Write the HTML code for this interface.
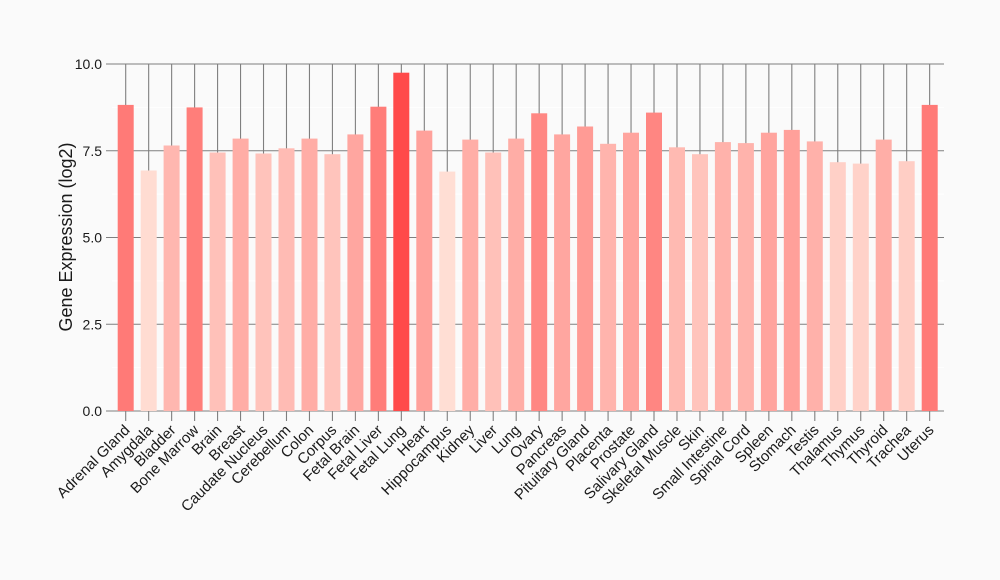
<!DOCTYPE html>
<html><head><meta charset="utf-8"><style>
html,body{margin:0;padding:0;background:#fafafa;}
svg{display:block;font-family:"Liberation Sans",Arial,sans-serif;}
</style></head><body>
<svg width="1000" height="580" viewBox="0 0 1000 580" xmlns="http://www.w3.org/2000/svg">
<rect width="1000" height="580" fill="#fafafa"/>
<g id="grid"></g>
<g>
<rect x="117.7" y="104.9" width="16" height="306.1" fill="rgb(255,122,119)"/>
<rect x="140.7" y="170.5" width="16" height="240.5" fill="rgb(255,220,210)"/>
<rect x="163.6" y="145.5" width="16" height="265.5" fill="rgb(255,183,176)"/>
<rect x="186.6" y="107.4" width="16" height="303.6" fill="rgb(255,126,122)"/>
<rect x="209.6" y="152.5" width="16" height="258.5" fill="rgb(255,193,185)"/>
<rect x="232.6" y="138.6" width="16" height="272.4" fill="rgb(255,173,166)"/>
<rect x="255.5" y="153.5" width="16" height="257.5" fill="rgb(255,195,187)"/>
<rect x="278.5" y="148.3" width="16" height="262.7" fill="rgb(255,187,180)"/>
<rect x="301.5" y="138.6" width="16" height="272.4" fill="rgb(255,173,166)"/>
<rect x="324.4" y="154.2" width="16" height="256.8" fill="rgb(255,196,188)"/>
<rect x="347.4" y="134.4" width="16" height="276.6" fill="rgb(255,166,160)"/>
<rect x="370.4" y="106.7" width="16" height="304.3" fill="rgb(255,125,121)"/>
<rect x="393.3" y="72.7" width="16" height="338.3" fill="rgb(255,74,74)"/>
<rect x="416.3" y="130.6" width="16" height="280.4" fill="rgb(255,161,155)"/>
<rect x="439.3" y="171.6" width="16" height="239.4" fill="rgb(255,222,212)"/>
<rect x="462.3" y="139.6" width="16" height="271.4" fill="rgb(255,174,167)"/>
<rect x="485.2" y="152.5" width="16" height="258.5" fill="rgb(255,193,185)"/>
<rect x="508.2" y="138.6" width="16" height="272.4" fill="rgb(255,173,166)"/>
<rect x="531.2" y="113.3" width="16" height="297.7" fill="rgb(255,135,131)"/>
<rect x="554.1" y="134.4" width="16" height="276.6" fill="rgb(255,166,160)"/>
<rect x="577.1" y="126.5" width="16" height="284.5" fill="rgb(255,155,149)"/>
<rect x="600.1" y="143.8" width="16" height="267.2" fill="rgb(255,180,173)"/>
<rect x="623.0" y="132.7" width="16" height="278.3" fill="rgb(255,164,158)"/>
<rect x="646.0" y="112.6" width="16" height="298.4" fill="rgb(255,134,130)"/>
<rect x="669.0" y="147.3" width="16" height="263.7" fill="rgb(255,186,178)"/>
<rect x="692.0" y="154.2" width="16" height="256.8" fill="rgb(255,196,188)"/>
<rect x="714.9" y="142.1" width="16" height="268.9" fill="rgb(255,178,171)"/>
<rect x="737.9" y="143.1" width="16" height="267.9" fill="rgb(255,179,172)"/>
<rect x="760.9" y="132.7" width="16" height="278.3" fill="rgb(255,164,158)"/>
<rect x="783.8" y="129.9" width="16" height="281.1" fill="rgb(255,160,154)"/>
<rect x="806.8" y="141.4" width="16" height="269.6" fill="rgb(255,177,170)"/>
<rect x="829.8" y="162.2" width="16" height="248.8" fill="rgb(255,208,199)"/>
<rect x="852.8" y="163.6" width="16" height="247.4" fill="rgb(255,210,201)"/>
<rect x="875.7" y="139.6" width="16" height="271.4" fill="rgb(255,174,167)"/>
<rect x="898.7" y="161.2" width="16" height="249.8" fill="rgb(255,206,197)"/>
<rect x="921.7" y="104.9" width="16" height="306.1" fill="rgb(255,122,119)"/>
</g>
<g id="lab"></g>
<text transform="translate(72,237) rotate(-90)" text-anchor="middle" font-size="18" fill="#1a1a1a">Gene Expression (log2)</text>
</svg>
<script>
var names=["Adrenal Gland","Amygdala","Bladder","Bone Marrow","Brain","Breast","Caudate Nucleus","Cerebellum","Colon","Corpus","Fetal Brain","Fetal Liver","Fetal Lung","Heart","Hippocampus","Kidney","Liver","Lung","Ovary","Pancreas","Pituitary Gland","Placenta","Prostate","Salivary Gland","Skeletal Muscle","Skin","Small Intestine","Spinal Cord","Spleen","Stomach","Testis","Thalamus","Thymus","Thyroid","Trachea","Uterus"];
var y0=411,sc=34.7,x0=125.7,dx=22.97;
var g='',l='';
[1.25,3.75,6.25,8.75].forEach(function(t){var y=y0-t*sc;g+='<line x1="112" x2="944" y1="'+y+'" y2="'+y+'" stroke="#ffffff" stroke-width="1"/>';});
for(var i=0;i<36;i++){var x=x0+i*dx;g+='<line x1="'+x+'" x2="'+x+'" y1="64" y2="421" stroke="#7f7f7f" stroke-width="1.1"/>';
l+='<text transform="translate('+(x+5)+',431) rotate(-45)" text-anchor="end" font-size="15" fill="#1a1a1a">'+names[i]+'</text>';}
[0,2.5,5,7.5,10].forEach(function(t){var y=y0-t*sc;g+='<line x1="106" x2="944" y1="'+y+'" y2="'+y+'" stroke="#7f7f7f" stroke-width="1.1"/>';
l+='<text x="102" y="'+(y+5)+'" text-anchor="end" font-size="14" fill="#1a1a1a">'+t.toFixed(1)+'</text>';});
document.getElementById('grid').innerHTML=g;
document.getElementById('lab').innerHTML=l;
</script>
</body></html>
